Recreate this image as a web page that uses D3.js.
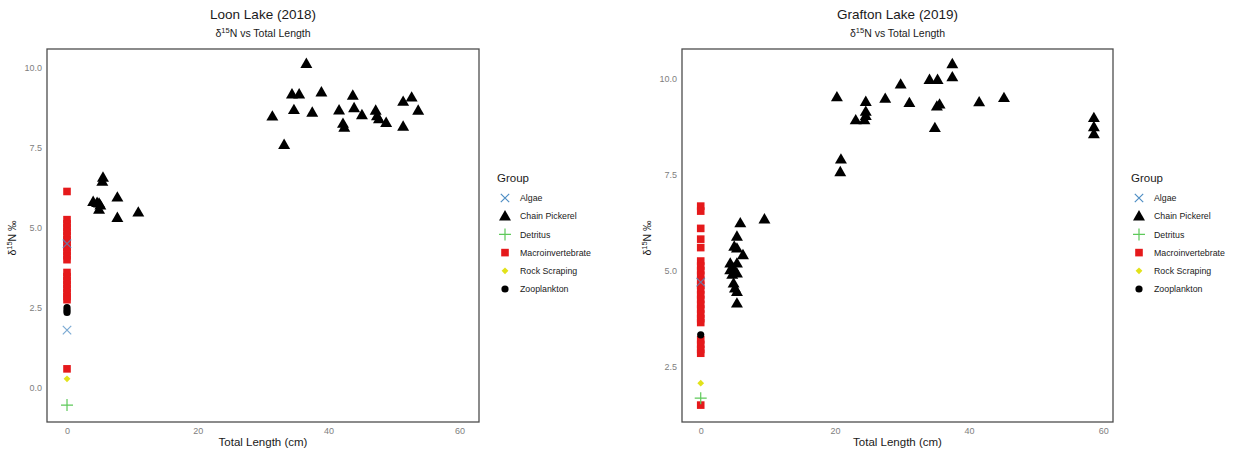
<!DOCTYPE html>
<html><head><meta charset="utf-8">
<script src="https://cdn.jsdelivr.net/npm/d3@7"></script>
<style>body{margin:0;background:#fff;font-family:"Liberation Sans",Arial,sans-serif;}</style>
</head><body><svg id="c" width="1241" height="458"></svg>
<script>
const groups = ["Algae","Chain Pickerel","Detritus","Macroinvertebrate","Rock Scraping","Zooplankton"];
const xTicks = [0,20,40,60];
const loonYTicks = [0,2.5,5,7.5,10];
const graftonYTicks = [2.5,5,7.5,10];

// Loon Lake (2018)
const loonPickerelLength = [36.6,34.4,35.5,38.9,43.7,52.7,51.4,31.4,34.7,37.5,41.6,43.9,45.1,47.2,47.4,47.7,48.8,53.7,42.2,42.4,51.4,33.2,5.5,5.4,4.0,4.9,5.1,4.9,7.7,7.7,10.9,4.6];
const loonPickerelN      = [10.12,9.17,9.17,9.23,9.13,9.07,8.94,8.48,8.68,8.6,8.67,8.74,8.52,8.66,8.49,8.39,8.28,8.66,8.25,8.13,8.16,7.59,6.57,6.44,5.81,5.76,5.7,5.57,5.95,5.31,5.48,5.78];
const loonMacroN   = [6.13,5.25,5.12,5.0,4.88,4.75,4.62,4.5,4.37,4.25,4.12,4.0,3.6,3.47,3.35,3.22,3.1,2.97,2.85,2.75,0.59];
const loonAlgaeN   = [4.5,1.8];
const loonZooN     = [2.5,2.42,2.35];
const loonRockN    = [0.28];
const loonDetritusN= [-0.54];

// Grafton Lake (2019)
const graftonPickerelLength = [37.5,37.5,34.1,35.3,29.8,20.3,24.6,27.5,31.1,41.5,45.2,35.6,35.2,24.6,24.6,24.4,23.1,34.9,58.6,58.6,58.6,20.9,20.8,9.5,5.9,5.4,5.0,5.4,6.3,4.4,5.4,4.9,4.4,5.4,4.7,4.9,5.1,5.4,5.4];
const graftonPickerelN      = [10.38,10.04,9.97,9.97,9.85,9.52,9.4,9.48,9.37,9.39,9.5,9.33,9.28,9.14,9.03,8.92,8.92,8.72,8.98,8.74,8.56,7.9,7.57,6.34,6.24,5.89,5.63,5.58,5.41,5.19,5.19,5.06,5.02,4.93,4.9,4.67,4.54,4.45,4.15];
const graftonMacroN   = [6.68,6.55,6.1,5.82,5.6,5.25,5.12,5.0,4.88,4.75,4.62,4.5,4.37,4.25,4.12,4.0,3.87,3.75,3.65,3.2,3.08,2.95,2.85,1.5];
const graftonAlgaeN   = [4.7];
const graftonZooN     = [3.33];
const graftonRockN    = [2.07];
const graftonDetritusN= [1.68];

const colors = {"Algae":"#4f8ec4","Chain Pickerel":"#000","Detritus":"#5ec95a","Macroinvertebrate":"#e5191b","Rock Scraping":"#e2e21a","Zooplankton":"#000"};

const svg = d3.select("#c");

function sym(g, type, cx, cy, col, alpha) {
  if (type==="Algae") {
    const s=4.2;
    g.append("path").attr("d",`M${cx-s},${cy-s}L${cx+s},${cy+s}M${cx-s},${cy+s}L${cx+s},${cy-s}`)
     .attr("stroke",col).attr("stroke-width",1.2).attr("fill","none").attr("opacity",alpha||1);
  } else if (type==="Chain Pickerel") {
    g.append("path").attr("d",d3.symbol(d3.symbolTriangle,62)()).attr("transform",`translate(${cx},${cy+0.8})`).attr("fill",col);
  } else if (type==="Detritus") {
    const s=6;
    g.append("path").attr("d",`M${cx-s},${cy}L${cx+s},${cy}M${cx},${cy-s}L${cx},${cy+s}`)
     .attr("stroke",col).attr("stroke-width",1.2).attr("fill","none");
  } else if (type==="Macroinvertebrate") {
    g.append("rect").attr("x",cx-3.8).attr("y",cy-3.8).attr("width",7.6).attr("height",7.6).attr("fill",col);
  } else if (type==="Rock Scraping") {
    const s=3.4;
    g.append("path").attr("d",`M${cx},${cy-s}L${cx+s},${cy}L${cx},${cy+s}L${cx-s},${cy}Z`).attr("fill",col);
  } else {
    g.append("circle").attr("cx",cx).attr("cy",cy).attr("r",3.6).attr("fill",col);
  }
}

function panel(opt) {
  const {x0,x1,y0,y1,xDom,yDom,yTicks,title,pick,pickN,macro,algae,zoo,rock,det,legX} = opt;
  const x = d3.scaleLinear().domain(xDom).range([x0,x1]);
  const y = d3.scaleLinear().domain(yDom).range([y1,y0]);
  const g = svg.append("g");
  const xa = g.append("g").attr("transform",`translate(0,${y1})`)
    .call(d3.axisBottom(x).tickValues(xTicks).tickSize(0).tickPadding(6).tickFormat(d3.format("d")));
  xa.select(".domain").remove();
  xa.selectAll("text").attr("fill","#808080").style("font-size","9px").style("font-family","Liberation Sans, Arial");
  const ya = g.append("g").attr("transform",`translate(${x0},0)`)
    .call(d3.axisLeft(y).tickValues(yTicks).tickSize(0).tickPadding(5).tickFormat(d3.format(".1f")));
  ya.select(".domain").remove();
  ya.selectAll("text").attr("fill","#808080").style("font-size","9px").style("font-family","Liberation Sans, Arial");

  const pts = g.append("g");
  macro.forEach(v=>sym(pts,"Macroinvertebrate",x(0),y(v),colors["Macroinvertebrate"]));
  zoo.forEach(v=>sym(pts,"Zooplankton",x(0),y(v),colors["Zooplankton"]));
  rock.forEach(v=>sym(pts,"Rock Scraping",x(0),y(v),colors["Rock Scraping"]));
  det.forEach(v=>sym(pts,"Detritus",x(0),y(v),colors["Detritus"]));
  algae.forEach(v=>sym(pts,"Algae",x(0),y(v),colors["Algae"],0.75));
  pick.forEach((l,i)=>sym(pts,"Chain Pickerel",x(l),y(pickN[i]),colors["Chain Pickerel"]));

  g.append("rect").attr("x",x0).attr("y",y0).attr("width",x1-x0).attr("height",y1-y0)
    .attr("fill","none").attr("stroke","#4d4d4d").attr("stroke-width",1.3);

  const cx=(x0+x1)/2;
  g.append("text").attr("x",cx).attr("y",19).attr("text-anchor","middle").style("font-size","13.5px").attr("fill","#1a1a1a").text(title);
  const st = g.append("text").attr("x",cx).attr("y",37).attr("text-anchor","middle").style("font-size","10.5px").attr("fill","#1a1a1a");
  st.append("tspan").text("δ");
  st.append("tspan").attr("dy",-4).style("font-size","7.5px").text("15");
  st.append("tspan").attr("dy",4).text("N  vs Total Length");

  g.append("text").attr("x",cx).attr("y",446).attr("text-anchor","middle").style("font-size","11.5px").attr("fill","#1a1a1a").text("Total Length (cm)");
  const yl = g.append("text").attr("transform",`translate(${x0-31},238) rotate(-90)`).attr("text-anchor","middle").style("font-size","10.5px").attr("fill","#1a1a1a");
  yl.append("tspan").text("δ");
  yl.append("tspan").attr("dy",-4).style("font-size","7.5px").text("15");
  yl.append("tspan").attr("dy",4).text("N ‰");

  g.append("text").attr("x",legX).attr("y",182).style("font-size","11.5px").attr("fill","#1a1a1a").text("Group");
  groups.forEach((gr,i)=>{
    const yy = 198 + i*18.2;
    sym(g,gr,legX+8,yy,colors[gr]);
    g.append("text").attr("x",legX+23).attr("y",yy+3.2).style("font-size","8.8px").attr("fill","#1a1a1a").text(gr);
  });
}

panel({x0:47,x1:479,y0:49,y1:422,xDom:[-3.06,63.0],yDom:[-1.07,10.58],yTicks:loonYTicks,title:"Loon Lake (2018)",
  pick:loonPickerelLength,pickN:loonPickerelN,macro:loonMacroN,algae:loonAlgaeN,zoo:loonZooN,rock:loonRockN,det:loonDetritusN,legX:497});
panel({x0:682,x1:1113,y0:49,y1:422,xDom:[-2.79,61.45],yDom:[1.06,10.77],yTicks:graftonYTicks,title:"Grafton Lake (2019)",
  pick:graftonPickerelLength,pickN:graftonPickerelN,macro:graftonMacroN,algae:graftonAlgaeN,zoo:graftonZooN,rock:graftonRockN,det:graftonDetritusN,legX:1131});
</script></body></html>
